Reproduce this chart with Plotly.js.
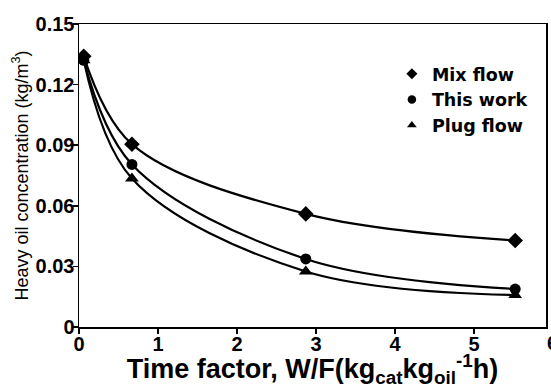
<!DOCTYPE html>
<html><head><meta charset="utf-8">
<script src="https://cdn.plot.ly/plotly-3.0.1.min.js"></script>
<style>html,body{margin:0;padding:0;background:#fff}#c{width:551px;height:388px}</style>
</head><body><div id="c"></div>
<script>
var timeFactor = [0.06, 0.67, 2.87, 5.52];
var mixFlow   = [0.134, 0.0905, 0.056, 0.0428];
var thisWork  = [0.132, 0.0805, 0.0337, 0.0188];
var plugFlow  = [0.132, 0.0735, 0.0275, 0.0158];
var seriesNames = ['Mix flow', 'This work', 'Plug flow'];
var symbols = ['diamond', 'circle', 'triangle-up'];
var yTicks = [0, 0.03, 0.06, 0.09, 0.12, 0.15];
var yTickText = ['0', '0.03', '0.06', '0.09', '0.12', '0.15'];
var xTicks = [0, 1, 2, 3, 4, 5];
var xEdgeLabel = '6';

var all = [mixFlow, thisWork, plugFlow];
var traces = [];
all.forEach(function (ys, i) {
  traces.push({x: timeFactor, y: ys, mode: 'lines', line: {shape: 'spline', smoothing: 1.0, color: '#000', width: 2.2}, showlegend: false, hoverinfo: 'skip'});
});
all.forEach(function (ys, i) {
  traces.push({x: timeFactor, y: ys, mode: 'markers', showlegend: false,
    marker: {symbol: symbols[i], color: '#000', size: i === 1 ? 11 : 12}});
});
// legend entries (small symbols as in the reference legend)
all.forEach(function (ys, i) {
  traces.push({x: [null], y: [null], mode: 'markers', name: seriesNames[i],
    marker: {symbol: symbols[i], color: '#000', size: 8.5}});
});

var F = 'Liberation Sans, Arial, sans-serif';
var layout = {
  width: 551, height: 388,
  margin: {l: 79, r: 5, t: 24, b: 61},
  paper_bgcolor: '#fff', plot_bgcolor: '#fff',
  font: {family: F, color: '#000'},
  showlegend: true,
  legend: {x: 0.67, y: 0.895, xanchor: 'left', yanchor: 'top', bgcolor: 'rgba(0,0,0,0)',
    font: {size: 17.5, family: 'DejaVu Sans, sans-serif', weight: 'bold'}, itemwidth: 30, tracegroupgap: 0},
  xaxis: {range: [0, 5.91], tickvals: xTicks, ticks: 'outside', ticklen: 5, tickwidth: 1.5, tickcolor: '#000',
    showline: true, linecolor: '#000', linewidth: 1.5, mirror: true, showgrid: false, zeroline: false,
    ticklabelstandoff: -7,
    tickfont: {size: 20, family: F, weight: 'bold'},
    title: {text: 'Time factor, W/F(kg<sub>cat</sub>kg<sub>oil</sub><sup>-1</sup>h)', standoff: 6,
      font: {size: 27, family: F, weight: 'bold'}}},
  yaxis: {range: [0, 0.15], tickvals: yTicks, ticktext: yTickText, ticks: 'outside', ticklen: 5, tickwidth: 1.5, tickcolor: '#000',
    showline: true, linecolor: '#000', linewidth: 1.5, mirror: true, showgrid: false, zeroline: false,
    ticklabelstandoff: -6,
    tickfont: {size: 20, family: F, weight: 'bold'},
    title: {text: 'Heavy oil concentration (kg/m<sup>3</sup>)', standoff: 2,
      font: {size: 18, family: F}}},
  annotations: [{xref: 'paper', yref: 'paper', x: (552 - 79) / 467, y: 0, yshift: -3, xanchor: 'center', yanchor: 'top',
    text: xEdgeLabel, showarrow: false, font: {size: 20, family: F, weight: 'bold', color: '#000'}}]
};
Plotly.newPlot('c', traces, layout, {displayModeBar: false, staticPlot: true});
</script></body></html>
